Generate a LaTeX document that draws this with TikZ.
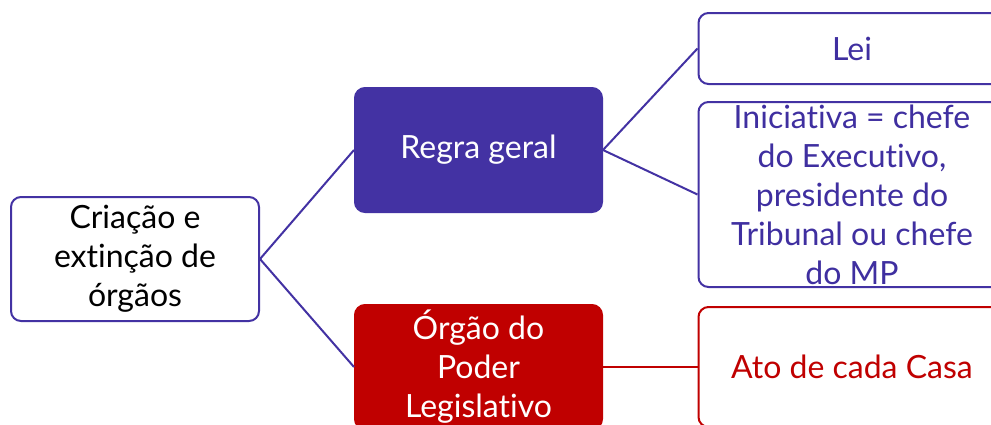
\documentclass[tikz,border=0pt]{standalone}
\usepackage{fontspec}
\setmainfont{Lato}[Ligatures={NoCommon}]
\definecolor{pur}{HTML}{4332A3}
\definecolor{ptext}{HTML}{3F2FA0}
\definecolor{rd}{HTML}{C00000}
\tikzset{
  box/.style={draw=pur, line width=2pt, rounded corners=10pt, inner sep=0pt, align=center,
    font=\fontsize{32}{39}\selectfont},
  wbox/.style={box, fill=white},
  pbox/.style={box, fill=pur, text=white},
  rbox/.style={box, draw=rd, fill=rd, text=white},
  link/.style={draw=pur, line width=2pt},
}
\begin{document}
\begin{tikzpicture}[x=1pt,y=-1pt]
\useasboundingbox (0,0) rectangle (991,424);
\clip (0,0) rectangle (991,424);
\node[wbox, minimum width=248pt, minimum height=124pt, text=black] (root) at (135,259) {Criação e\\extinção de\\órgãos};
\node[pbox, minimum width=247pt, minimum height=124pt] (regra) at (478.5,150) {Regra geral};
\node[rbox, minimum width=247pt, minimum height=124pt] (orgao) at (478.5,367) {Órgão do\\Poder\\Legislativo};
\node[wbox, minimum width=307pt, minimum height=71pt, text=ptext] (lei) at (852,48.5) {Lei};
\node[wbox, minimum width=307pt, minimum height=185pt, text=ptext] (inic) at (852,194.5) {Iniciativa = chefe\\do Executivo,\\presidente do\\Tribunal ou chefe\\do MP};
\node[wbox, draw=rd, minimum width=307pt, minimum height=120pt, text=rd] (ato) at (852,367) {Ato de cada Casa};
\draw[link] (root.east) -- (regra.west);
\draw[link] (root.east) -- (orgao.west);
\draw[link] (regra.east) -- (lei.west);
\draw[link] (regra.east) -- (inic.west);
\draw[link, draw=rd] (orgao.east) -- (ato.west);
\end{tikzpicture}
\end{document}
